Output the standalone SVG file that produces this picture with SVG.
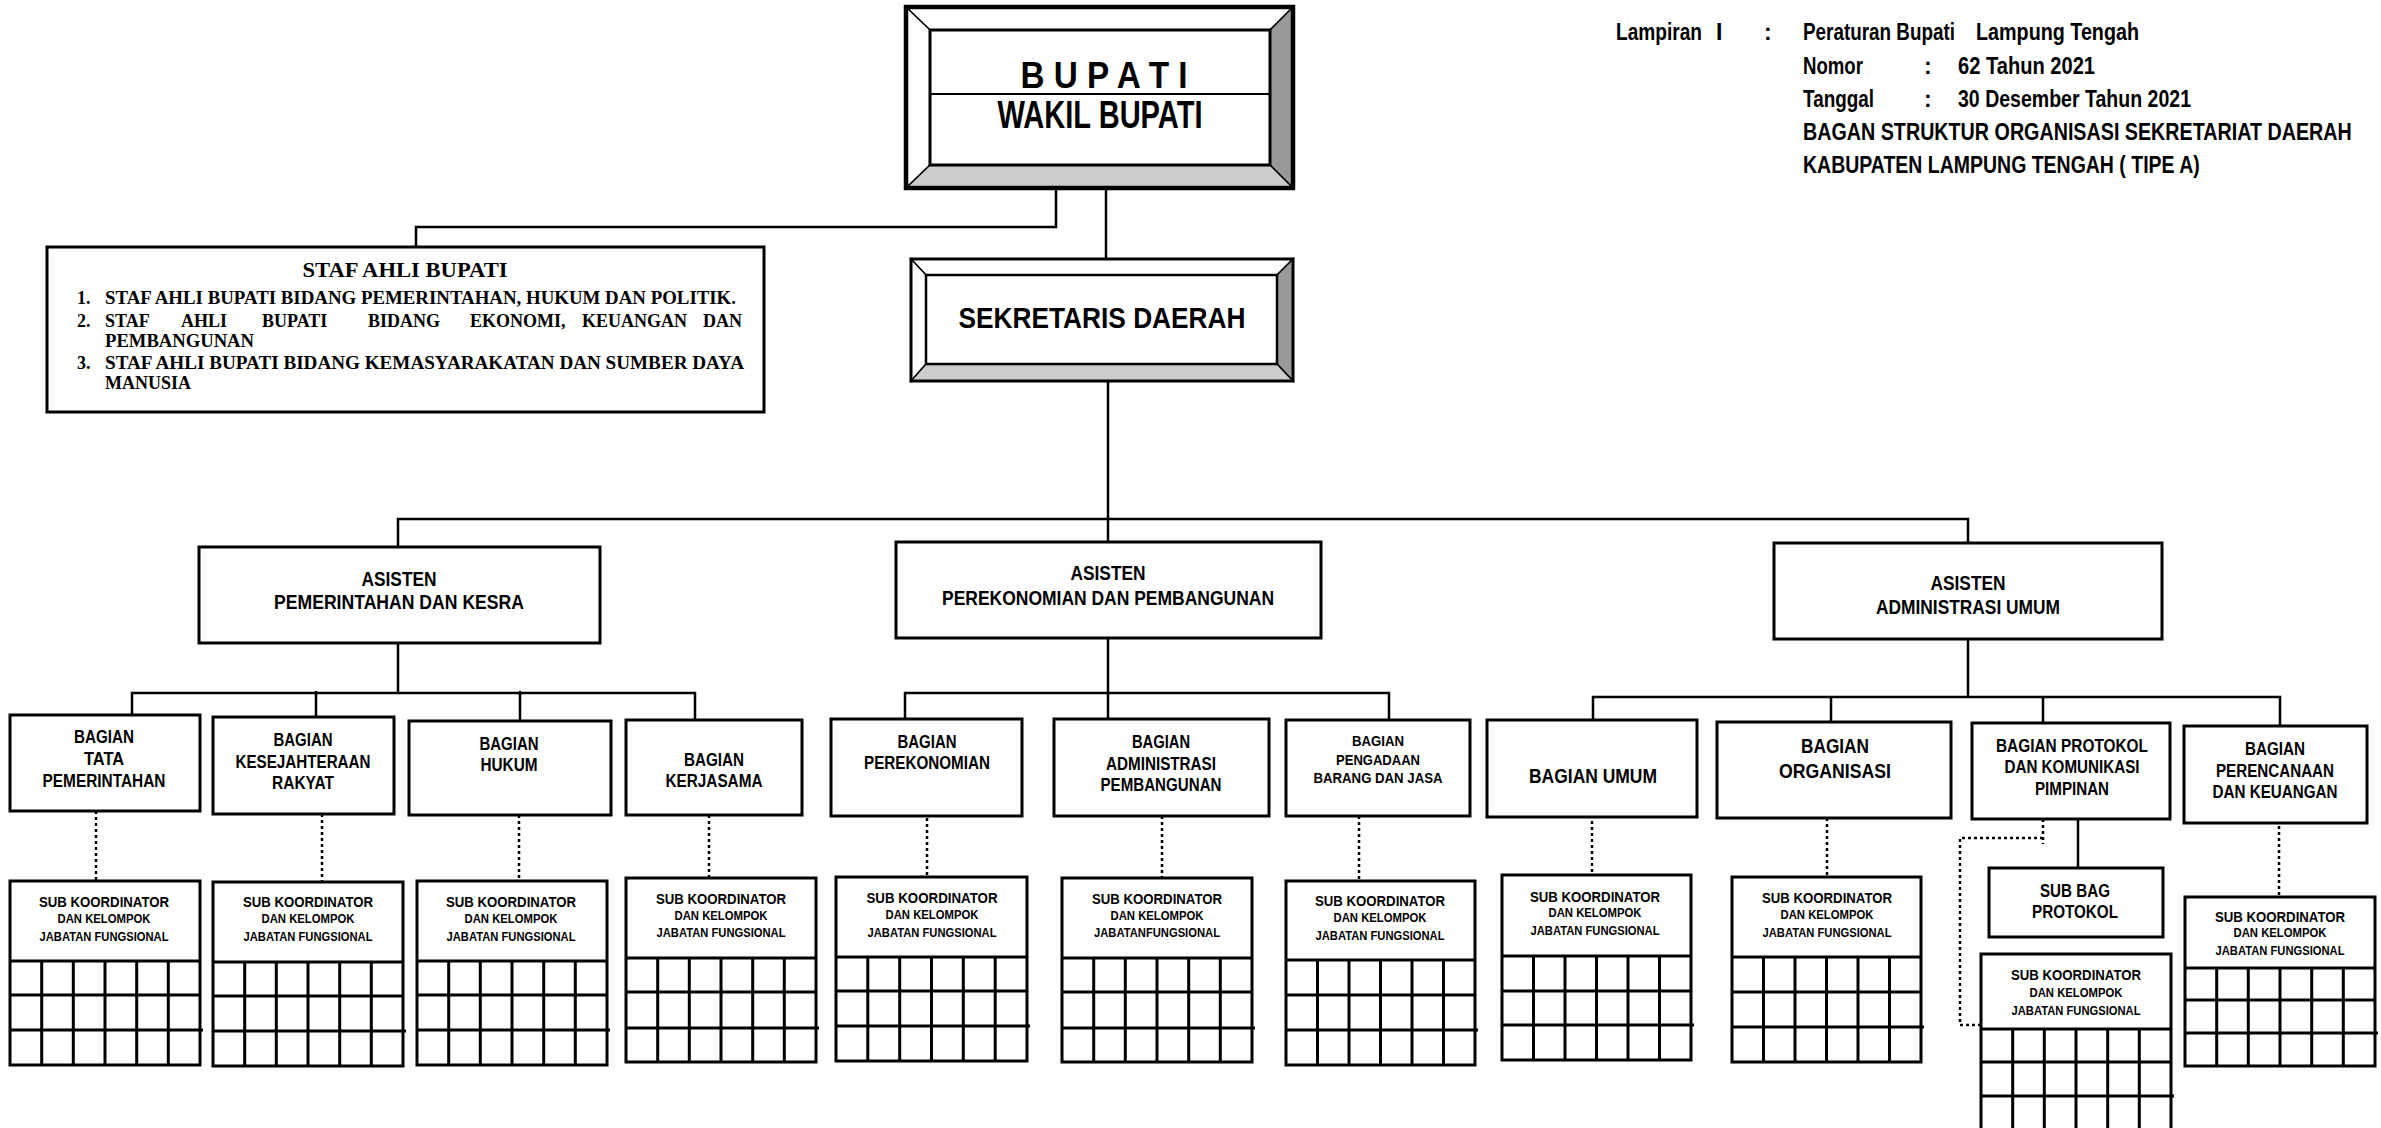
<svg xmlns="http://www.w3.org/2000/svg" width="2381" height="1128" viewBox="0 0 2381 1128">
  <style>
    .box{fill:#fff;stroke:#000;stroke-width:3}
    .ln{fill:none;stroke:#000;stroke-width:2.5}
    .dot{fill:none;stroke:#000;stroke-width:2.5;stroke-dasharray:3 3}
    .grid{fill:none;stroke:#000;stroke-width:3}
    .bev{stroke:#000;stroke-width:1.5}
    .n{font-family:"Liberation Sans Narrow","Arial Narrow","Liberation Sans",Arial,sans-serif;font-weight:bold;fill:#000}
    .c{text-anchor:middle}
    .s{font-family:"Liberation Serif","Times New Roman",serif;font-weight:bold;fill:#000}
    .hd{font-size:23px}
    .l2{font-size:21px}
    .l3{font-size:18px}
    .k1{font-size:15px}
    .k2{font-size:12.5px}
    .k3{font-size:13.5px}
  </style>

  <!-- header note -->
  <g id="header">
    <text class="n hd" x="1616" y="40" textLength="86" lengthAdjust="spacingAndGlyphs">Lampiran</text>
    <text class="n hd" x="1716" y="40">I</text>
    <text class="n hd" x="1764" y="40">:</text>
    <text class="n hd" x="1803" y="40" textLength="152" lengthAdjust="spacingAndGlyphs">Peraturan Bupati</text>
    <text class="n hd" x="1976" y="40" textLength="163" lengthAdjust="spacingAndGlyphs">Lampung Tengah</text>
    <text class="n hd" x="1803" y="74" textLength="60" lengthAdjust="spacingAndGlyphs">Nomor</text>
    <text class="n hd" x="1924" y="74">:</text>
    <text class="n hd" x="1958" y="74" textLength="137" lengthAdjust="spacingAndGlyphs">62  Tahun 2021</text>
    <text class="n hd" x="1803" y="107" textLength="71" lengthAdjust="spacingAndGlyphs">Tanggal</text>
    <text class="n hd" x="1924" y="107">:</text>
    <text class="n hd" x="1958" y="107" textLength="233" lengthAdjust="spacingAndGlyphs">30 Desember Tahun 2021</text>
    <text class="n hd" transform="translate(1803 140) scale(0.8 1)" textLength="686" lengthAdjust="spacingAndGlyphs">BAGAN STRUKTUR ORGANISASI SEKRETARIAT DAERAH</text>
    <text class="n hd" transform="translate(1803 173) scale(0.8 1)" textLength="496" lengthAdjust="spacingAndGlyphs">KABUPATEN LAMPUNG TENGAH ( TIPE A)</text>
  </g>

  <!-- connectors -->
  <g id="connectors">
    <path class="ln" d="M1056 188V227H416V247"/>
    <path class="ln" d="M1106 180V259"/>
    <path class="ln" d="M1108 381V542"/>
    <path class="ln" d="M398 547V519H1968V543"/>
    <path class="ln" d="M398 643V693M132 715V693H695V720M316 691V717M520 691V721"/>
    <path class="ln" d="M1108 638V719M905 719V693H1389V720"/>
    <path class="ln" d="M1968 639V697M1593 722V697H2280V726M1831 697V722M2043 697V723"/>
    <path class="ln" d="M2078 819V868"/>
    <path class="dot" d="M96 811V881M322 814V882M519 815V881M709 815V878M927 806V877M1162 816V878M1359 816V881M1592 815V875M1827 818V877M2279 820V897"/>
    <path class="dot" d="M2043 819V844M2043 838H1960V1025H1981"/>
  </g>

  <!-- top office -->
  <g id="bupati">
    <polygon class="bev" points="906,7 1293,7 1270,30 930,30" fill="#fff"/>
    <polygon class="bev" points="906,7 930,30 930,165 906,188" fill="#fff"/>
    <polygon class="bev" points="1293,7 1293,188 1270,165 1270,30" fill="#999"/>
    <polygon class="bev" points="906,188 1293,188 1270,165 930,165" fill="#ccc"/>
    <rect x="906" y="7" width="387" height="181" fill="none" stroke="#000" stroke-width="4.5"/>
    <rect x="930" y="30" width="340" height="135" fill="#fff" stroke="#000" stroke-width="3"/>
    <line x1="930" y1="94" x2="1270" y2="94" stroke="#000" stroke-width="2"/>
    <text class="n c" x="1104" y="88" font-size="37" textLength="167" lengthAdjust="spacingAndGlyphs">B U P A T I</text>
    <text class="n c" x="1100" y="128" font-size="38" textLength="205" lengthAdjust="spacingAndGlyphs">WAKIL BUPATI</text>
  </g>

  <g id="staf-ahli">
    <rect class="box" x="47" y="247" width="717" height="165"/>
    <text class="s c" x="405" y="277" font-size="21" textLength="205" lengthAdjust="spacingAndGlyphs">STAF  AHLI BUPATI</text>
    <g font-size="18">
      <text class="s" x="77" y="304">1.</text>
      <text class="s" x="105" y="304" textLength="631" lengthAdjust="spacingAndGlyphs">STAF AHLI BUPATI BIDANG PEMERINTAHAN, HUKUM DAN POLITIK.</text>
      <text class="s" x="77" y="327">2.</text>
      <text class="s" y="327"><tspan x="105">STAF</tspan><tspan x="181">AHLI</tspan><tspan x="262">BUPATI</tspan><tspan x="368">BIDANG</tspan><tspan x="470">EKONOMI,</tspan><tspan x="582">KEUANGAN</tspan><tspan x="703">DAN</tspan></text>
      <text class="s" x="105" y="347" textLength="149" lengthAdjust="spacingAndGlyphs">PEMBANGUNAN</text>
      <text class="s" x="77" y="369">3.</text>
      <text class="s" x="105" y="369" textLength="639" lengthAdjust="spacingAndGlyphs">STAF AHLI BUPATI BIDANG KEMASYARAKATAN DAN SUMBER DAYA</text>
      <text class="s" x="105" y="389" textLength="86" lengthAdjust="spacingAndGlyphs">MANUSIA</text>
    </g>
  </g>

  <g id="sekretaris-daerah">
    <polygon class="bev" points="911,259 1293,259 1277,275 926,275" fill="#fff"/>
    <polygon class="bev" points="911,259 926,275 926,364 911,381" fill="#fff"/>
    <polygon class="bev" points="1293,259 1293,381 1277,364 1277,275" fill="#999"/>
    <polygon class="bev" points="911,381 1293,381 1277,364 926,364" fill="#ccc"/>
    <rect x="911" y="259" width="382" height="122" fill="none" stroke="#000" stroke-width="3"/>
    <rect x="926" y="275" width="351" height="89" fill="#fff" stroke="#000" stroke-width="2.5"/>
    <text class="n c" x="1102" y="328" font-size="30" textLength="287" lengthAdjust="spacingAndGlyphs">SEKRETARIS DAERAH</text>
  </g>

  <!-- assistants -->
  <g id="asisten-1">
    <rect class="box" x="199" y="547" width="401" height="96"/>
    <text class="n c l2" x="399" y="586" textLength="75" lengthAdjust="spacingAndGlyphs">ASISTEN</text>
    <text class="n c l2" x="399" y="609" textLength="250" lengthAdjust="spacingAndGlyphs">PEMERINTAHAN DAN KESRA</text>
  </g>
  <g id="asisten-2">
    <rect class="box" x="896" y="542" width="425" height="96"/>
    <text class="n c l2" x="1108" y="580" textLength="75" lengthAdjust="spacingAndGlyphs">ASISTEN</text>
    <text class="n c l2" x="1108" y="605" textLength="332" lengthAdjust="spacingAndGlyphs">PEREKONOMIAN DAN PEMBANGUNAN</text>
  </g>
  <g id="asisten-3">
    <rect class="box" x="1774" y="543" width="388" height="96"/>
    <text class="n c l2" x="1968" y="590" textLength="75" lengthAdjust="spacingAndGlyphs">ASISTEN</text>
    <text class="n c l2" x="1968" y="614" textLength="184" lengthAdjust="spacingAndGlyphs">ADMINISTRASI UMUM</text>
  </g>

  <!-- sections -->
  <g id="bagian-tata-pemerintahan">
    <rect class="box" x="10" y="715" width="190" height="96"/>
    <text class="n c l3" x="104" y="743" textLength="60" lengthAdjust="spacingAndGlyphs">BAGIAN</text>
    <text class="n c l3" x="104" y="765" textLength="40" lengthAdjust="spacingAndGlyphs">TATA</text>
    <text class="n c l3" x="104" y="787" textLength="123" lengthAdjust="spacingAndGlyphs">PEMERINTAHAN</text>
  </g>
  <g id="bagian-kesejahteraan-rakyat">
    <rect class="box" x="213" y="717" width="181" height="97"/>
    <text class="n c l3" x="303" y="746" textLength="59" lengthAdjust="spacingAndGlyphs">BAGIAN</text>
    <text class="n c l3" x="303" y="768" textLength="135" lengthAdjust="spacingAndGlyphs">KESEJAHTERAAN</text>
    <text class="n c l3" x="303" y="789" textLength="62" lengthAdjust="spacingAndGlyphs">RAKYAT</text>
  </g>
  <g id="bagian-hukum">
    <rect class="box" x="409" y="721" width="202" height="94"/>
    <text class="n c l3" x="509" y="750" textLength="59" lengthAdjust="spacingAndGlyphs">BAGIAN</text>
    <text class="n c l3" x="509" y="771" textLength="57" lengthAdjust="spacingAndGlyphs">HUKUM</text>
  </g>
  <g id="bagian-kerjasama">
    <rect class="box" x="626" y="720" width="176" height="95"/>
    <text class="n c l3" x="714" y="766" textLength="60" lengthAdjust="spacingAndGlyphs">BAGIAN</text>
    <text class="n c l3" x="714" y="787" textLength="97" lengthAdjust="spacingAndGlyphs">KERJASAMA</text>
  </g>
  <g id="bagian-perekonomian">
    <rect class="box" x="831" y="719" width="191" height="97"/>
    <text class="n c l3" x="927" y="748" textLength="59" lengthAdjust="spacingAndGlyphs">BAGIAN</text>
    <text class="n c l3" x="927" y="769" textLength="126" lengthAdjust="spacingAndGlyphs">PEREKONOMIAN</text>
  </g>
  <g id="bagian-administrasi-pembangunan">
    <rect class="box" x="1054" y="719" width="215" height="97"/>
    <text class="n c l3" x="1161" y="748" textLength="58" lengthAdjust="spacingAndGlyphs">BAGIAN</text>
    <text class="n c l3" x="1161" y="770" textLength="110" lengthAdjust="spacingAndGlyphs">ADMINISTRASI</text>
    <text class="n c l3" x="1161" y="791" textLength="121" lengthAdjust="spacingAndGlyphs">PEMBANGUNAN</text>
  </g>
  <g id="bagian-pengadaan">
    <rect class="box" x="1286" y="720" width="184" height="96"/>
    <text class="n c" font-size="15" x="1378" y="746" textLength="52" lengthAdjust="spacingAndGlyphs">BAGIAN</text>
    <text class="n c" font-size="15" x="1378" y="765" textLength="84" lengthAdjust="spacingAndGlyphs">PENGADAAN</text>
    <text class="n c" font-size="15" x="1378" y="783" textLength="129" lengthAdjust="spacingAndGlyphs">BARANG DAN JASA</text>
  </g>
  <g id="bagian-umum">
    <rect class="box" x="1487" y="720" width="210" height="97"/>
    <text class="n c" font-size="20" x="1593" y="783" textLength="128" lengthAdjust="spacingAndGlyphs">BAGIAN UMUM</text>
  </g>
  <g id="bagian-organisasi">
    <rect class="box" x="1717" y="722" width="234" height="96"/>
    <text class="n c" font-size="21" x="1835" y="753" textLength="68" lengthAdjust="spacingAndGlyphs">BAGIAN</text>
    <text class="n c" font-size="21" x="1835" y="778" textLength="112" lengthAdjust="spacingAndGlyphs">ORGANISASI</text>
  </g>
  <g id="bagian-protokol">
    <rect class="box" x="1972" y="723" width="198" height="96"/>
    <text class="n c" font-size="17.5" x="2072" y="752" textLength="152" lengthAdjust="spacingAndGlyphs">BAGIAN PROTOKOL</text>
    <text class="n c" font-size="17.5" x="2072" y="773" textLength="135" lengthAdjust="spacingAndGlyphs">DAN KOMUNIKASI</text>
    <text class="n c" font-size="17.5" x="2072" y="795" textLength="74" lengthAdjust="spacingAndGlyphs">PIMPINAN</text>
  </g>
  <g id="bagian-perencanaan">
    <rect class="box" x="2184" y="726" width="183" height="97"/>
    <text class="n c" font-size="18.5" x="2275" y="755" textLength="60" lengthAdjust="spacingAndGlyphs">BAGIAN</text>
    <text class="n c" font-size="18.5" x="2275" y="777" textLength="118" lengthAdjust="spacingAndGlyphs">PERENCANAAN</text>
    <text class="n c" font-size="18.5" x="2275" y="798" textLength="125" lengthAdjust="spacingAndGlyphs">DAN KEUANGAN</text>
  </g>

  <g id="sub-bag-protokol">
    <rect class="box" x="1989" y="868" width="174" height="69"/>
    <text class="n c" font-size="18" x="2075" y="897" textLength="70" lengthAdjust="spacingAndGlyphs">SUB BAG</text>
    <text class="n c" font-size="18" x="2075" y="918" textLength="86" lengthAdjust="spacingAndGlyphs">PROTOKOL</text>
  </g>

  <!-- functional groups -->
  <g id="sub-koordinator-1">
    <rect class="box" x="10" y="881" width="190" height="184"/>
    <path class="grid" d="M10 961H200M10 995H200M10 1030H203M41.7 961V1065M73.3 961V1065M105 961V1065M136.7 961V1065M168.3 961V1065"/>
    <text class="n c k1" x="104" y="907" textLength="130" lengthAdjust="spacingAndGlyphs">SUB KOORDINATOR</text>
    <text class="n c k2" x="104" y="923" textLength="93" lengthAdjust="spacingAndGlyphs">DAN  KELOMPOK</text>
    <text class="n c k3" x="104" y="941" textLength="129" lengthAdjust="spacingAndGlyphs">JABATAN FUNGSIONAL</text>
  </g>
  <g id="sub-koordinator-2">
    <rect class="box" x="213" y="882" width="190" height="184"/>
    <path class="grid" d="M213 962H403M213 996H403M213 1031H406M244.7 962V1066M276.3 962V1066M308 962V1066M339.7 962V1066M371.3 962V1066"/>
    <text class="n c k1" x="308" y="907" textLength="130" lengthAdjust="spacingAndGlyphs">SUB KOORDINATOR</text>
    <text class="n c k2" x="308" y="923" textLength="93" lengthAdjust="spacingAndGlyphs">DAN  KELOMPOK</text>
    <text class="n c k3" x="308" y="941" textLength="129" lengthAdjust="spacingAndGlyphs">JABATAN FUNGSIONAL</text>
  </g>
  <g id="sub-koordinator-3">
    <rect class="box" x="417" y="881" width="190" height="184"/>
    <path class="grid" d="M417 961H607M417 995H607M417 1030H610M448.7 961V1065M480.3 961V1065M512 961V1065M543.7 961V1065M575.3 961V1065"/>
    <text class="n c k1" x="511" y="907" textLength="130" lengthAdjust="spacingAndGlyphs">SUB KOORDINATOR</text>
    <text class="n c k2" x="511" y="923" textLength="93" lengthAdjust="spacingAndGlyphs">DAN  KELOMPOK</text>
    <text class="n c k3" x="511" y="941" textLength="129" lengthAdjust="spacingAndGlyphs">JABATAN FUNGSIONAL</text>
  </g>
  <g id="sub-koordinator-4">
    <rect class="box" x="626" y="878" width="190" height="184"/>
    <path class="grid" d="M626 958H816M626 992H816M626 1028H819M657.7 958V1062M689.3 958V1062M721 958V1062M752.7 958V1062M784.3 958V1062"/>
    <text class="n c k1" x="721" y="904" textLength="130" lengthAdjust="spacingAndGlyphs">SUB KOORDINATOR</text>
    <text class="n c k2" x="721" y="920" textLength="93" lengthAdjust="spacingAndGlyphs">DAN  KELOMPOK</text>
    <text class="n c k3" x="721" y="937" textLength="129" lengthAdjust="spacingAndGlyphs">JABATAN FUNGSIONAL</text>
  </g>
  <g id="sub-koordinator-5">
    <rect class="box" x="836" y="877" width="191" height="184"/>
    <path class="grid" d="M836 957H1027M836 991H1027M836 1026H1030M867.8 957V1061M899.7 957V1061M931.5 957V1061M963.3 957V1061M995.2 957V1061"/>
    <text class="n c k1" x="932" y="903" textLength="131" lengthAdjust="spacingAndGlyphs">SUB KOORDINATOR</text>
    <text class="n c k2" x="932" y="919" textLength="93" lengthAdjust="spacingAndGlyphs">DAN  KELOMPOK</text>
    <text class="n c k3" x="932" y="937" textLength="129" lengthAdjust="spacingAndGlyphs">JABATAN FUNGSIONAL</text>
  </g>
  <g id="sub-koordinator-6">
    <rect class="box" x="1062" y="878" width="190" height="184"/>
    <path class="grid" d="M1062 958H1252M1062 992H1252M1062 1028H1255M1093.7 958V1062M1125.3 958V1062M1157 958V1062M1188.7 958V1062M1220.3 958V1062"/>
    <text class="n c k1" x="1157" y="904" textLength="130" lengthAdjust="spacingAndGlyphs">SUB KOORDINATOR</text>
    <text class="n c k2" x="1157" y="920" textLength="93" lengthAdjust="spacingAndGlyphs">DAN  KELOMPOK</text>
    <text class="n c k3" x="1157" y="937" textLength="126" lengthAdjust="spacingAndGlyphs">JABATANFUNGSIONAL</text>
  </g>
  <g id="sub-koordinator-7">
    <rect class="box" x="1286" y="881" width="189" height="184"/>
    <path class="grid" d="M1286 960H1475M1286 995H1475M1286 1030H1478M1317.5 960V1065M1349 960V1065M1380.5 960V1065M1412 960V1065M1443.5 960V1065"/>
    <text class="n c k1" x="1380" y="906" textLength="130" lengthAdjust="spacingAndGlyphs">SUB KOORDINATOR</text>
    <text class="n c k2" x="1380" y="922" textLength="93" lengthAdjust="spacingAndGlyphs">DAN  KELOMPOK</text>
    <text class="n c k3" x="1380" y="940" textLength="129" lengthAdjust="spacingAndGlyphs">JABATAN FUNGSIONAL</text>
  </g>
  <g id="sub-koordinator-8">
    <rect class="box" x="1502" y="875" width="189" height="185"/>
    <path class="grid" d="M1502 956H1691M1502 991H1691M1502 1025H1694M1533.5 956V1060M1565 956V1060M1596.5 956V1060M1628 956V1060M1659.5 956V1060"/>
    <text class="n c k1" x="1595" y="902" textLength="130" lengthAdjust="spacingAndGlyphs">SUB KOORDINATOR</text>
    <text class="n c k2" x="1595" y="917" textLength="93" lengthAdjust="spacingAndGlyphs">DAN  KELOMPOK</text>
    <text class="n c k3" x="1595" y="935" textLength="129" lengthAdjust="spacingAndGlyphs">JABATAN FUNGSIONAL</text>
  </g>
  <g id="sub-koordinator-9">
    <rect class="box" x="1732" y="877" width="189" height="185"/>
    <path class="grid" d="M1732 957H1921M1732 992H1921M1732 1027H1924M1763.5 957V1062M1795 957V1062M1826.5 957V1062M1858 957V1062M1889.5 957V1062"/>
    <text class="n c k1" x="1827" y="903" textLength="130" lengthAdjust="spacingAndGlyphs">SUB KOORDINATOR</text>
    <text class="n c k2" x="1827" y="919" textLength="93" lengthAdjust="spacingAndGlyphs">DAN  KELOMPOK</text>
    <text class="n c k3" x="1827" y="937" textLength="129" lengthAdjust="spacingAndGlyphs">JABATAN FUNGSIONAL</text>
  </g>
  <g id="sub-koordinator-10">
    <rect class="box" x="1981" y="954" width="190" height="178"/>
    <path class="grid" d="M1981 1029H2171M1981 1062H2171M1981 1096H2174M2012.7 1029V1132M2044.3 1029V1132M2076 1029V1132M2107.7 1029V1132M2139.3 1029V1132"/>
    <text class="n c k1" x="2076" y="980" textLength="130" lengthAdjust="spacingAndGlyphs">SUB KOORDINATOR</text>
    <text class="n c k2" x="2076" y="997" textLength="93" lengthAdjust="spacingAndGlyphs">DAN  KELOMPOK</text>
    <text class="n c k3" x="2076" y="1015" textLength="129" lengthAdjust="spacingAndGlyphs">JABATAN FUNGSIONAL</text>
  </g>
  <g id="sub-koordinator-11">
    <rect class="box" x="2185" y="897" width="190" height="169"/>
    <path class="grid" d="M2185 968H2375M2185 1000H2375M2185 1033H2378M2216.7 968V1066M2248.3 968V1066M2280 968V1066M2311.7 968V1066M2343.3 968V1066"/>
    <text class="n c k1" x="2280" y="922" textLength="130" lengthAdjust="spacingAndGlyphs">SUB KOORDINATOR</text>
    <text class="n c k2" x="2280" y="937" textLength="93" lengthAdjust="spacingAndGlyphs">DAN  KELOMPOK</text>
    <text class="n c k3" x="2280" y="955" textLength="129" lengthAdjust="spacingAndGlyphs">JABATAN FUNGSIONAL</text>
  </g>
</svg>
